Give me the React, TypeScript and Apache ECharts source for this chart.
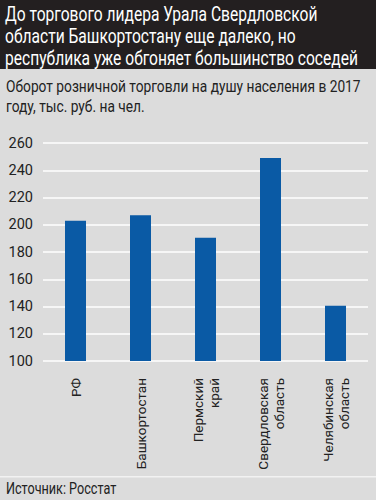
import React, { useEffect, useRef } from "react";
import * as echarts from "echarts";

const categories = ["РФ", "Башкортостан", "Пермский\nкрай", "Свердловская\nобласть", "Челябинская\nобласть"];
const values = [203, 207, 190.5, 249, 140.5];
const titleLines = [
  "До торгового лидера Урала Свердловской",
  "области Башкортостану еще далеко, но",
  "республика уже обгоняет большинство соседей",
];
const subtitleLines = ["Оборот розничной торговли на душу населения в 2017", "году, тыс. руб. на чел."];
const sourceText = "Источник: Росстат";

const FONT = "Roboto, 'Noto Sans', sans-serif";

export default function App() {
  const ref = useRef<HTMLDivElement>(null);
  useEffect(() => {
    if (!ref.current) return;
    const chart = echarts.init(ref.current, null, { renderer: "svg" });
    chart.setOption({
      animation: false,
      backgroundColor: "#dcdcdc",
      grid: { left: 43, right: 8, top: 143, bottom: 139, containLabel: false },
      xAxis: {
        type: "category",
        data: categories,
        axisLine: { show: false },
        axisTick: { show: false },
        axisLabel: {
          rotate: 90,
          margin: 17,
          fontFamily: FONT,
          fontSize: 13.5,
          color: "#222",
          lineHeight: 16,
          interval: 0,
        },
      },
      yAxis: {
        type: "value",
        min: 100,
        max: 260,
        interval: 20,
        axisLine: { show: false },
        axisTick: { show: false },
        splitLine: { lineStyle: { color: "#ffffff", width: 1.5 } },
        axisLabel: { fontFamily: FONT, fontSize: 14.5, color: "#222", margin: 10 },
      },
      series: [
        {
          type: "bar",
          data: values,
          barWidth: 21,
          itemStyle: { color: "#0a5aa5" },
        },
      ],
      graphic: [
        { type: "rect", shape: { x: 0, y: 0, width: 376, height: 69 }, style: { fill: "#231f20" }, z: 0 },
        {
          type: "text",
          x: 5,
          y: 3,
          scaleX: 0.78,
          style: {
            text: titleLines.join("\n"),
            fill: "#ffffff",
            font: `20px ${FONT}`,
            lineHeight: 22,
            verticalAlign: "top",
          },
        },
        {
          type: "text",
          x: 6,
          y: 77,
          scaleX: 0.86,
          style: {
            text: subtitleLines.join("\n"),
            fill: "#222",
            font: `16px ${FONT}`,
            lineHeight: 20,
            verticalAlign: "top",
          },
        },
        { type: "rect", shape: { x: 0, y: 476, width: 376, height: 1.5 }, style: { fill: "#f2f2f2" } },
        {
          type: "text",
          x: 6,
          y: 481,
          scaleX: 0.79,
          style: { text: sourceText, fill: "#222", font: `16px ${FONT}`, verticalAlign: "top" },
        },
      ],
    });
    return () => chart.dispose();
  }, []);
  return <div ref={ref} style={{ position: "fixed", left: 0, top: 0, width: 376, height: 500 }} />;
}
